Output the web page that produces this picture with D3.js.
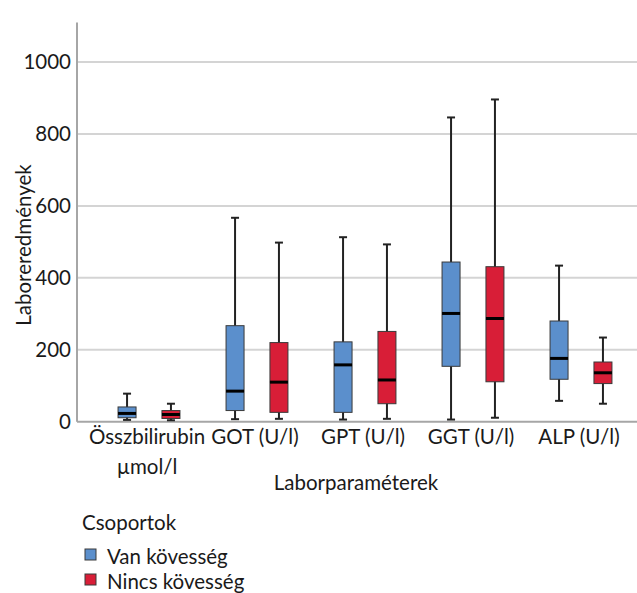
<!DOCTYPE html>
<html>
<head>
<meta charset="utf-8">
<script src="https://cdn.jsdelivr.net/npm/d3@7"></script>
<style>
	body { margin: 0; background: #fff; }
	text { font-family: Lato, "Open Sans", sans-serif; fill: #1a1a1a; }
</style>
</head>
<body>
<div id="chart"></div>
<script>

//=================== DATA ====================================
var categories = ["Összbilirubin\nµmol/l", "GOT (U/l)", "GPT (U/l)", "GGT (U/l)", "ALP (U/l)"];
var groups = ["Van kövesség", "Nincs kövesség"];
var groupColors = ["#5b8fcc", "#d81e37"];

// Van kövesség
var vanMin    = [5, 7, 6, 6, 58];
var vanQ1     = [11, 31, 26, 154, 118];
var vanMedian = [23, 85, 158, 301, 176];
var vanQ3     = [41, 267, 222, 444, 280];
var vanMax    = [78, 567, 513, 846, 434];

// Nincs kövesség
var nincsMin    = [4, 8, 8, 11, 50];
var nincsQ1     = [9, 26, 50, 111, 106];
var nincsMedian = [20, 110, 116, 287, 136];
var nincsQ3     = [31, 220, 251, 431, 166];
var nincsMax    = [50, 498, 493, 896, 234];

var yTicks = [0, 200, 400, 600, 800, 1000];

//build box records from the arrays above
var boxes = [];
categories.forEach(function(c, i){
	boxes.push({cat: c, group: groups[0], min: vanMin[i], q1: vanQ1[i], med: vanMedian[i], q3: vanQ3[i], max: vanMax[i]});
	boxes.push({cat: c, group: groups[1], min: nincsMin[i], q1: nincsQ1[i], med: nincsMedian[i], q3: nincsQ3[i], max: nincsMax[i]});
});

//=================== LAYOUT ====================================
var width = 637, height = 593;
var plotLeft = 77, plotRight = 653, plotBottom = 421.7, plotTop = 22.5;
var boxWidth = 18, capWidth = 8;
var fontSize = "20.5px";

var svg = d3.select("#chart").append("svg")
	.attr("width", width)
	.attr("height", height);

var x = d3.scaleBand()
	.domain(categories)
	.range([plotLeft, plotRight])
	.paddingInner(0)
	.paddingOuter(1 / 6);

var xSub = d3.scalePoint()
	.domain(groups)
	.range([0, x.bandwidth()])
	.padding(0.73);

var y = d3.scaleLinear()
	.domain([0, 1110])
	.range([plotBottom, plotTop]);

var color = d3.scaleOrdinal().domain(groups).range(groupColors);

//gridlines
svg.append("g")
	.selectAll("line.grid")
	.data(yTicks.filter(function(d){ return d > 0; }))
	.enter().append("line")
	.attr("x1", plotLeft).attr("x2", width)
	.attr("y1", function(d){ return y(d); })
	.attr("y2", function(d){ return y(d); })
	.attr("stroke", "#d4d4d4")
	.attr("stroke-width", 2);

//y axis
var yAxis = svg.append("g")
	.attr("transform", "translate(" + plotLeft + ",0)")
	.call(d3.axisLeft(y).tickValues(yTicks).tickFormat(d3.format("d")).tickSize(0).tickPadding(6));
yAxis.select(".domain").remove();
yAxis.selectAll("text")
	.style("font-size", fontSize)
	.style("font-family", "Lato, sans-serif")
	.attr("fill", "#1a1a1a");

//axis lines
svg.append("line")
	.attr("x1", plotLeft).attr("x2", plotLeft)
	.attr("y1", plotTop).attr("y2", plotBottom)
	.attr("stroke", "#a6a6a6").attr("stroke-width", 2);
svg.append("line")
	.attr("x1", plotLeft).attr("x2", width)
	.attr("y1", plotBottom).attr("y2", plotBottom)
	.attr("stroke", "#a6a6a6").attr("stroke-width", 2);

//x category labels
var catLabels = svg.append("g")
	.selectAll("text.cat")
	.data(categories)
	.enter().append("text")
	.attr("class", "cat")
	.attr("text-anchor", "middle")
	.style("font-size", fontSize)
	.attr("transform", function(d){ return "translate(" + (x(d) + x.bandwidth() / 2 - 2) + ",444)"; });
catLabels.selectAll("tspan")
	.data(function(d){ return d.split("\n"); })
	.enter().append("tspan")
	.attr("x", 0)
	.attr("dy", function(d, i){ return i === 0 ? 0 : 30; })
	.text(function(d){ return d; });

//boxes
var boxG = svg.append("g")
	.selectAll("g.box")
	.data(boxes)
	.enter().append("g")
	.attr("class", "box")
	.attr("transform", function(d){ return "translate(" + (x(d.cat) + xSub(d.group)) + ",0)"; });

//whisker
boxG.append("line")
	.attr("x1", 0).attr("x2", 0)
	.attr("y1", function(d){ return y(d.min); })
	.attr("y2", function(d){ return y(d.max); })
	.attr("stroke", "#222").attr("stroke-width", 2);
//caps
boxG.selectAll("line.cap")
	.data(function(d){ return [d.min, d.max]; })
	.enter().append("line")
	.attr("class", "cap")
	.attr("x1", -capWidth / 2).attr("x2", capWidth / 2)
	.attr("y1", function(v){ return y(v); })
	.attr("y2", function(v){ return y(v); })
	.attr("stroke", "#222").attr("stroke-width", 2);
//box
boxG.append("rect")
	.attr("x", -boxWidth / 2)
	.attr("width", boxWidth)
	.attr("y", function(d){ return y(d.q3); })
	.attr("height", function(d){ return y(d.q1) - y(d.q3); })
	.attr("fill", function(d){ return color(d.group); })
	.attr("stroke", "#3a3a3a").attr("stroke-width", 1);
//median
boxG.append("line")
	.attr("x1", -boxWidth / 2).attr("x2", boxWidth / 2)
	.attr("y1", function(d){ return y(d.med); })
	.attr("y2", function(d){ return y(d.med); })
	.attr("stroke", "#000").attr("stroke-width", 3);

//axis titles
svg.append("text")
	.attr("text-anchor", "middle")
	.attr("transform", "translate(31,245) rotate(-90)")
	.style("font-size", fontSize)
	.text("Laboreredmények");
svg.append("text")
	.attr("text-anchor", "middle")
	.attr("x", 356).attr("y", 490)
	.style("font-size", fontSize)
	.text("Laborparaméterek");

//legend
var legend = svg.append("g").attr("transform", "translate(82,0)");
legend.append("text")
	.attr("x", 0).attr("y", 530)
	.style("font-size", fontSize)
	.text("Csoportok");
var items = legend.selectAll("g.item")
	.data(groups)
	.enter().append("g")
	.attr("class", "item")
	.attr("transform", function(d, i){ return "translate(0," + (564 + i * 25) + ")"; });
items.append("rect")
	.attr("x", 3).attr("y", -15)
	.attr("width", 11).attr("height", 11)
	.attr("fill", function(d){ return color(d); })
	.attr("stroke", "#3a3a3a").attr("stroke-width", 1);
items.append("text")
	.attr("x", 25).attr("y", 0)
	.style("font-size", fontSize)
	.text(function(d){ return d; });

</script>
</body>
</html>
